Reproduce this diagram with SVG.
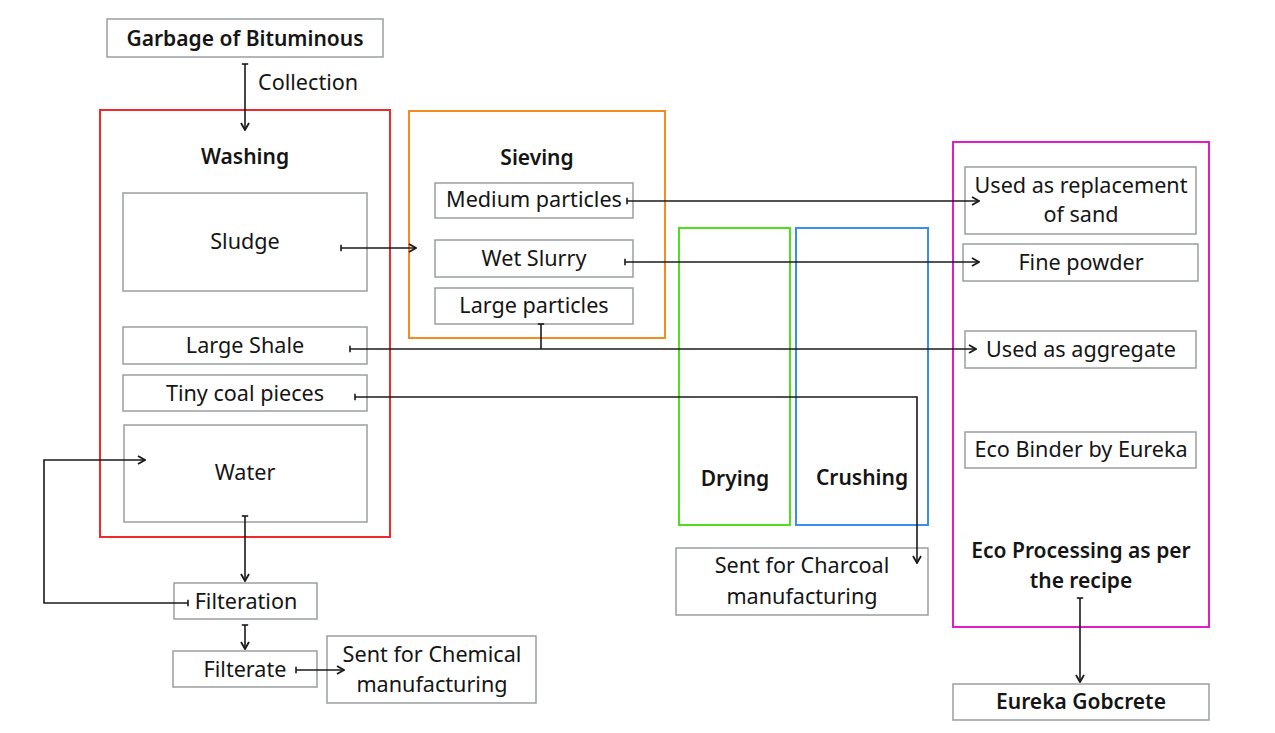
<svg xmlns="http://www.w3.org/2000/svg" width="1275" height="733" viewBox="0 0 1275 733">
<style>
.box{fill:none;stroke:#9a9e9e;stroke-width:1.5}
.t{font-family:"Noto Sans","Open Sans",sans-serif;font-size:21.6px;fill:#151515;text-anchor:middle}
.b{font-weight:600;font-size:21px}
.c{fill:none;stroke:#1a1a1a;stroke-width:1.6;marker-end:url(#ah);marker-start:url(#tk)}
</style>
<defs>
<marker id="ah" viewBox="0 0 10 10" refX="9" refY="5" markerWidth="10" markerHeight="10" markerUnits="userSpaceOnUse" orient="auto">
<path d="M2,1 L9,5 L2,9" fill="none" stroke="#1a1a1a" stroke-width="1.8"/>
</marker>
<marker id="tk" viewBox="0 0 10 10" refX="5" refY="5" markerWidth="8" markerHeight="8" markerUnits="userSpaceOnUse" orient="auto">
<path d="M5,1 L5,9" stroke="#1a1a1a" stroke-width="2"/>
</marker>
</defs>
<rect width="1275" height="733" fill="#fff"/>
<g id="containers">
<rect x="100" y="110" width="290" height="427" fill="none" stroke="#ee2a2a" stroke-width="2"/>
<rect x="409" y="111" width="256" height="227" fill="none" stroke="#f28c1e" stroke-width="2"/>
<rect x="679" y="228" width="111" height="297" fill="none" stroke="#4fe01c" stroke-width="2"/>
<rect x="796" y="228" width="132" height="297" fill="none" stroke="#3a8ef0" stroke-width="2"/>
<rect x="953" y="142" width="256" height="485" fill="none" stroke="#e01ec8" stroke-width="2"/>
</g>
<g id="garbage"><rect class="box" x="107" y="19" width="276" height="38"/><text class="t b" x="245" y="46">Garbage of Bituminous</text></g>
<g id="collection-label"><text class="t" x="258" y="90" style="text-anchor:start">Collection</text></g>
<g id="washing"><text class="t b" x="245" y="164">Washing</text></g>
<g id="sludge"><rect class="box" x="123" y="193" width="244" height="98"/><text class="t" x="245" y="249">Sludge</text></g>
<g id="large-shale"><rect class="box" x="123" y="327" width="244" height="37"/><text class="t" x="245" y="353">Large Shale</text></g>
<g id="tiny-coal"><rect class="box" x="123" y="375" width="244" height="36"/><text class="t" x="245" y="401">Tiny coal pieces</text></g>
<g id="water"><rect class="box" x="124" y="425" width="243" height="97"/><text class="t" x="245" y="480">Water</text></g>
<g id="sieving"><text class="t b" x="537" y="165">Sieving</text></g>
<g id="medium"><rect class="box" x="435" y="183" width="198" height="35"/><text class="t" x="534" y="207">Medium particles</text></g>
<g id="wet-slurry"><rect class="box" x="435" y="240" width="198" height="37"/><text class="t" x="534" y="266">Wet Slurry</text></g>
<g id="large-particles"><rect class="box" x="435" y="288" width="198" height="36"/><text class="t" x="534" y="313">Large particles</text></g>
<g id="drying"><text class="t b" x="735" y="486">Drying</text></g>
<g id="crushing"><text class="t b" x="862" y="485">Crushing</text></g>
<g id="charcoal"><rect class="box" x="676" y="548" width="252" height="67"/><text class="t" x="802" y="573">Sent for Charcoal</text><text class="t" x="802" y="604">manufacturing</text></g>
<g id="replacement"><rect class="box" x="965" y="167" width="231" height="67"/><text class="t" x="1081" y="193">Used as replacement</text><text class="t" x="1081" y="222">of sand</text></g>
<g id="fine-powder"><rect class="box" x="963" y="244" width="235" height="37"/><text class="t" x="1081" y="270">Fine powder</text></g>
<g id="aggregate"><rect class="box" x="965" y="331" width="231" height="37"/><text class="t" x="1081" y="357">Used as aggregate</text></g>
<g id="eco-binder"><rect class="box" x="965" y="432" width="231" height="36"/><text class="t" x="1081" y="457">Eco Binder by Eureka</text></g>
<g id="eco-processing"><text class="t b" x="1081" y="558">Eco Processing as per</text><text class="t b" x="1081" y="588">the recipe</text></g>
<g id="gobcrete"><rect class="box" x="953" y="684" width="256" height="36"/><text class="t b" x="1081" y="709">Eureka Gobcrete</text></g>
<g id="filteration"><rect class="box" x="174" y="583" width="143" height="36"/><text class="t" x="246" y="609">Filteration</text></g>
<g id="filterate"><rect class="box" x="173" y="651" width="144" height="36"/><text class="t" x="245" y="677">Filterate</text></g>
<g id="chemical"><rect class="box" x="327" y="636" width="209" height="67"/><text class="t" x="432" y="662">Sent for Chemical</text><text class="t" x="432" y="692">manufacturing</text></g>
<g id="connectors">
<path class="c" d="M245,64 V130"/>
<path class="c" d="M341,248 H416"/>
<path class="c" d="M627,201 H979"/>
<path class="c" d="M625,262 H979"/>
<path class="c" d="M350,349 H976"/>
<path d="M541,324 V349" fill="none" stroke="#1a1a1a" stroke-width="1.6" marker-start="url(#tk)"/>
<path class="c" d="M355,397 H917 V563"/>
<path class="c" d="M245,516 V581"/>
<path class="c" d="M188,603 H44 V460 H145"/>
<path class="c" d="M245,625 V649"/>
<path class="c" d="M296,670 H344"/>
<path class="c" d="M1080,598 V682"/>
</g>
</svg>
